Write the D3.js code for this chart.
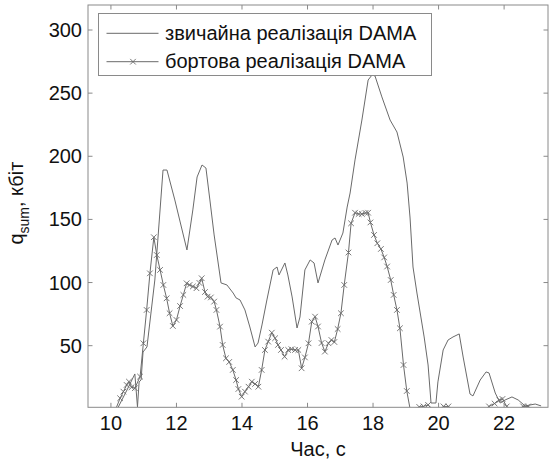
<!DOCTYPE html>
<html><head><meta charset="utf-8">
<script src="https://cdn.jsdelivr.net/npm/d3@7/dist/d3.min.js"></script>
<style>body{margin:0;background:#fff}svg{display:block}text{font-family:"Liberation Sans",Arial,sans-serif;fill:#111}</style>
</head><body>
<script>
// Series 1: звичайна реалізація DAMA (solid line)
const time1 = [10.21,10.49,10.73,10.81,10.86,10.92,10.98,11.10,11.34,11.59,11.71,11.95,12.32,12.50,12.63,12.78,12.90,13.02,13.15,13.36,13.54,13.73,13.82,13.94,14.09,14.24,14.40,14.49,14.61,14.76,14.95,15.07,15.13,15.31,15.40,15.53,15.68,15.77,15.92,16.08,16.20,16.32,16.53,16.75,16.84,16.93,17.08,17.21,17.30,17.45,17.66,17.85,17.97,18.06,18.27,18.52,18.73,18.92,19.04,19.13,19.22,19.34,19.56,19.68,19.77,19.92,19.98,20.14,20.29,20.44,20.63,20.75,20.96,21.05,21.27,21.45,21.54,21.73,21.88,22.03,22.24,22.43,22.64,22.95,23.13];
const sum1 = [0.7,14.9,27.6,1.5,21.3,22.8,45.0,49.0,102.0,189.1,189.1,165.4,125.8,157.5,183.6,193.1,190.7,165.4,137.7,99.7,98.1,91.7,87.8,86.2,78.3,64.8,49.0,52.1,66.4,86.2,110.0,112.3,106.0,115.5,106.0,88.6,64.0,72.7,110.0,117.9,115.5,99.7,117.9,133.7,135.3,129.7,139.2,159.8,170.9,197.1,228.7,260.4,264.4,263.6,247.0,228.7,219.2,199.4,178.8,151.1,112.3,91.7,56.9,34.7,4.6,4.6,21.3,46.6,54.5,56.9,59.3,41.0,11.7,10.2,22.8,29.2,28.4,12.5,4.6,7.0,9.4,7.0,2.3,3.8,2.3];
// Series 2: бортова реалізація DAMA (line with x markers)
const time2 = [10.15,10.28,10.38,10.48,10.55,10.63,10.73,10.89,10.99,11.09,11.19,11.31,11.40,11.50,11.60,11.70,11.79,11.89,12.00,12.11,12.21,12.31,12.40,12.50,12.61,12.70,12.77,12.87,12.95,13.05,13.15,13.22,13.33,13.41,13.51,13.61,13.72,13.82,13.89,13.99,14.09,14.20,14.30,14.40,14.50,14.60,14.70,14.80,14.91,15.01,15.10,15.19,15.30,15.41,15.51,15.62,15.72,15.82,15.92,16.03,16.13,16.23,16.32,16.43,16.53,16.64,16.73,16.82,16.92,17.02,17.12,17.25,17.33,17.45,17.56,17.66,17.77,17.85,17.92,18.03,18.13,18.24,18.34,18.43,18.54,18.63,18.73,18.82,18.93,19.03,19.13,19.25,19.41,19.54,19.68,19.80,20.05,20.15,20.30,20.41,21.45,21.54,21.71,21.86,21.95,22.08,22.18,22.46,22.58,22.73,22.86];
const sum2 = [0,8.4,13.6,18.9,21.5,17.1,16.3,25.5,51.9,78.3,107.3,135.9,121.8,110.0,98.1,87.5,75.7,65.6,70.4,81.4,90.2,99.4,98.1,96.9,95.5,99.7,103.4,92.5,88.8,88.2,84.9,78.3,65.1,50.6,40.0,37.1,30.8,22.8,15.7,9.6,13.6,17.5,21.5,19.7,17.5,30.8,46.6,53.2,60.3,55.9,50.6,46.6,41.3,46.6,47.2,46.6,46.6,32.1,40.7,51.9,69.0,73.0,65.2,52.1,45.3,51.9,54.5,52.9,63.2,75.7,98.1,123.8,146.9,155.3,154.3,154.3,155.1,155.3,147.6,137.7,131.1,126.6,119.9,112.7,102.0,90.2,78.3,63.8,34.7,14.1,0,0,1.5,1.9,3.1,0,0,1.9,1.9,0,0,1.9,4.2,7.0,7.8,1.9,0,0,1.9,1.9,0];
const xTicks = [10,12,14,16,18,20,22];
const yTicks = [50,100,150,200,250,300];
const seriesNames = ["звичайна реалізація DAMA","бортова реалізація DAMA"];
const xLabel = "Час, с";

const W = 549, H = 461;
const L = 88, R = 548, T = 5, B = 407.3;
const FS = 20;
const x = d3.scaleLinear().domain([9.3, 23.34]).range([L, R]);
const y = d3.scaleLinear().domain([1.2, 319.8]).range([B, T]);
const lineCol = "#6a6a6a", axisCol = "#8a8a8a";

const svg = d3.select("body").append("svg").attr("width", W).attr("height", H);
svg.append("defs").append("clipPath").attr("id","clip")
  .append("rect").attr("x", L).attr("y", T).attr("width", R-L).attr("height", B-T);

const d1 = time1.map((t,i)=>({t, v: sum1[i]}));
const d2 = time2.map((t,i)=>({t, v: sum2[i]}));
const line = d3.line().x(d=>x(d.t)).y(d=>y(d.v));

const plot = svg.append("g").attr("clip-path","url(#clip)");
plot.append("path").datum(d1).attr("d", line).attr("fill","none").attr("stroke", lineCol).attr("stroke-width", 1);
plot.append("path").datum(d2).attr("d", line).attr("fill","none").attr("stroke", lineCol).attr("stroke-width", 1);
const ms = 2.8;
const cross = (cx,cy)=>`M${cx-ms},${cy-ms}L${cx+ms},${cy+ms}M${cx-ms},${cy+ms}L${cx+ms},${cy-ms}`;
plot.selectAll("path.mk").data(d2.filter(d=>d.v >= y.domain()[0])).enter().append("path")
  .attr("class","mk")
  .attr("d", d=>cross(x(d.t), y(d.v)))
  .attr("stroke", lineCol).attr("stroke-width", 0.9).attr("fill","none");

// axes box
const tl = 4.5;
const ax = svg.append("g").attr("stroke", axisCol).attr("stroke-width", 1).attr("fill","none");
ax.append("rect").attr("x", L).attr("y", T).attr("width", R-L).attr("height", B-T);
xTicks.forEach(v=>{
  ax.append("line").attr("x1", x(v)).attr("x2", x(v)).attr("y1", B).attr("y2", B-tl);
  ax.append("line").attr("x1", x(v)).attr("x2", x(v)).attr("y1", T).attr("y2", T+tl);
});
yTicks.forEach(v=>{
  ax.append("line").attr("x1", L).attr("x2", L+tl).attr("y1", y(v)).attr("y2", y(v));
  ax.append("line").attr("x1", R).attr("x2", R-tl).attr("y1", y(v)).attr("y2", y(v));
});
svg.selectAll("text.xt").data(xTicks).enter().append("text")
  .attr("x", d=>x(d)).attr("y", 430).attr("text-anchor","middle").attr("font-size", FS).text(d=>d);
svg.selectAll("text.yt").data(yTicks).enter().append("text")
  .attr("x", 82).attr("y", d=>y(d)+7).attr("text-anchor","end").attr("font-size", FS).text(d=>d);
svg.append("text").attr("x", (L+R)/2).attr("y", 456).attr("text-anchor","middle").attr("font-size", FS).text(xLabel);
const yl = svg.append("text").attr("transform", `translate(23,${(T+B)/2 - 3}) rotate(-90)`).attr("text-anchor","middle").attr("font-size", FS);
yl.append("tspan").text("q");
yl.append("tspan").attr("font-size", 14).attr("dy", 6).text("sum");
yl.append("tspan").attr("dy", -6).text(", кбіт");

// legend
const lg = svg.append("g");
lg.append("rect").attr("x", 98.5).attr("y", 13.5).attr("width", 333).attr("height", 62).attr("fill","#fff").attr("stroke", axisCol);
[33.3, 61.7].forEach((yy,i)=>{
  lg.append("line").attr("x1",106.5).attr("x2",158.5).attr("y1",yy).attr("y2",yy).attr("stroke", lineCol);
  if(i===1){lg.append("path").attr("d",cross(133,yy)).attr("stroke",lineCol).attr("stroke-width",0.9);}
  lg.append("text").attr("x",165).attr("y",yy+6.5).attr("font-size",FS).text(seriesNames[i]);
});
</script>
</body></html>
